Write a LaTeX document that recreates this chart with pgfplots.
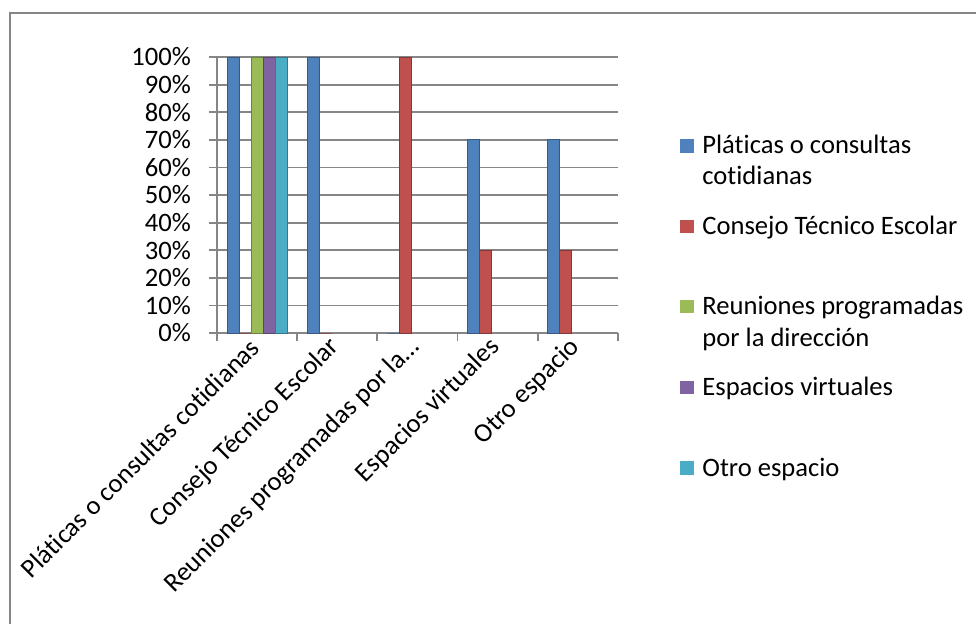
\documentclass[border=0pt]{standalone}
\usepackage{fontspec}
\setmainfont{Carlito}[Ligatures=NoCommon]
\usepackage{pgfplots}
\pgfplotsset{compat=1.18}
\definecolor{s1}{HTML}{4F81BD}
\definecolor{s2}{HTML}{C0504D}
\definecolor{s3}{HTML}{9BBB59}
\definecolor{s4}{HTML}{8064A2}
\definecolor{s5}{HTML}{4BACC6}
\definecolor{gridc}{HTML}{868686}
\newcommand{\lf}{\fontsize{13.3}{16}\selectfont}
\begin{document}
\begin{tikzpicture}
\useasboundingbox (0,0) rectangle (488pt,311.5pt);
\draw[gridc, line width=1pt] (5pt,-2pt) -- (5pt,305pt) -- (490pt,305pt);
\begin{axis}[
  at={(108.5pt,145pt)}, anchor=south west,
  scale only axis, width=200.5pt, height=138pt,
  xmin=-0.5, xmax=4.5, ymin=0, ymax=100,
  ybar=0pt, bar width=6pt,
  axis lines*=left,
  axis line style={gridc, line width=0.9pt},
  ymajorgrids, major grid style={gridc, line width=0.9pt},
  ytick={0,10,...,100},
  yticklabel={\pgfmathprintnumber{\tick}\%},
  /pgf/number format/assume math mode=true,
  tick align=outside, major tick length=4pt,
  major y tick style={gridc, line width=0.9pt},
  xtick={0,...,4},
  major x tick style={draw=none},
  minor xtick={-0.5,0.5,...,4.5},
  minor tick length=4pt,
  minor x tick style={gridc, line width=0.9pt},
  xticklabels={Pláticas o consultas cotidianas, Consejo Técnico Escolar, Reuniones programadas por la…, Espacios virtuales, Otro espacio},
  every tick label/.append style={font=\lf, text=black},
  yticklabel style={xshift=-5.5pt},
  xticklabel style={rotate=45, anchor=east, xshift=2pt},
  clip=false,
]
\addplot[fill=s1, draw=s1!70!black, line width=0.5pt] coordinates {(0,100) (1,100) (2,0) (3,70) (4,70)};
\addplot[fill=s2, draw=s2!70!black, line width=0.5pt] coordinates {(0,0) (1,0) (2,100) (3,30) (4,30)};
\addplot[fill=s3, draw=s3!70!black, line width=0.5pt] coordinates {(0,100)};
\addplot[fill=s4, draw=s4!70!black, line width=0.5pt] coordinates {(0,100)};
\addplot[fill=s5, draw=s5!70!black, line width=0.5pt] coordinates {(0,100)};
\end{axis}
\begin{scope}[x=0.5pt, y=-0.5pt, shift={(0pt,311.5pt)}, every node/.style={font=\lf, anchor=base west, inner sep=0pt}]
  \fill[s1] (680,139) rectangle (693.5,152.5);
  \node at (702,153.6) {Pláticas o consultas};
  \node at (702,184.5) {cotidianas};
  \fill[s2] (680,219.5) rectangle (693.5,233);
  \node at (702,234) {Consejo Técnico Escolar};
  \fill[s3] (680,299.5) rectangle (693.5,313);
  \node at (702,314.7) {Reuniones programadas};
  \node at (702,346) {por la dirección};
  \fill[s4] (680,380.5) rectangle (693.5,394);
  \node at (702,395) {Espacios virtuales};
  \fill[s5] (680,461) rectangle (693.5,474.5);
  \node at (702,476) {Otro espacio};
\end{scope}
\end{tikzpicture}
\end{document}
